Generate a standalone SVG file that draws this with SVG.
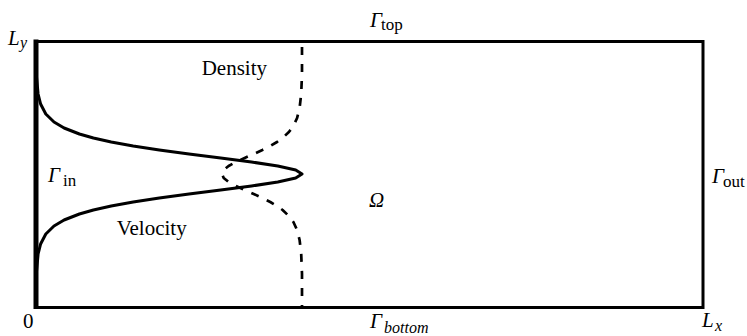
<svg xmlns="http://www.w3.org/2000/svg" width="747" height="336" viewBox="0 0 747 336">
<style>
text{font-family:'Liberation Serif','Times New Roman','DejaVu Serif',serif;fill:#000}
.lab{font-size:21px}
.it{font-style:italic}
.sub{font-size:17px}
.subi{font-size:16px;font-style:italic}
.border{fill:none;stroke:#000;stroke-width:3;stroke-linejoin:miter}
.curve{fill:none;stroke:#000;stroke-width:3;stroke-linejoin:round;stroke-linecap:round}
.dash{fill:none;stroke:#000;stroke-width:2.7;stroke-dasharray:8 9;stroke-linejoin:round}
</style>
<rect width="747" height="336" fill="#fff"/>
<g id="domain">
<path class="border" d="M36,41.5 H703 V307.5 H36"/>
<line x1="36" y1="39.5" x2="36" y2="309" stroke="#000" stroke-width="5"/>
</g>
<g id="connectors">
<path id="velocity-profile" class="curve" d="M36,70 L36.6,78 L38.1,94 L40.6,104 L45.8,114 L54,122 L64.1,128 L79.4,134 L93.4,138 L111.2,142 L133.2,146 L159.3,150 L189,154 L220.7,158 L251.5,162 L277.8,166 L295.7,170 L302,174 L295.7,178 L277.8,182 L251.5,186 L220.7,190 L189,194 L159.3,198 L133.2,202 L111.2,206 L93.4,210 L79.4,214 L64.1,220 L54,226 L45.8,234 L40.6,244 L38.1,254 L36.6,270 L36,278"/>
<path id="density-profile" class="dash" d="M302,47 L302,74 L301.2,94 L299.6,108 L297.1,118 L293.4,126 L288.9,132 L282.6,138 L277,142 L270.3,146 L262.4,150 L253.7,154 L244.6,158 L235.9,162 L228.6,166 L223.7,170 L222,174 L223.7,178 L228.6,182 L235.9,186 L244.6,190 L253.7,194 L262.4,198 L270.3,202 L277,206 L282.6,210 L288.9,216 L293.4,222 L297.1,230 L299.6,240 L301.2,254 L302,274 L302,306"/>
</g>
<g id="label-density"><text class="lab" font-family="Liberation Serif, serif" x="201.7" y="75">Density</text></g>
<g id="label-velocity"><text class="lab" font-family="Liberation Serif, serif" x="116.7" y="235">Velocity</text></g>
<g id="label-gamma-in"><text class="lab" font-family="Liberation Serif, serif"><tspan class="it" x="48" y="182">Γ</tspan><tspan class="sub" x="63" y="186">in</tspan></text></g>
<g id="label-gamma-top"><text class="lab" font-family="Liberation Serif, serif"><tspan class="it" x="370" y="27">Γ</tspan><tspan class="sub" x="381" y="30">top</tspan></text></g>
<g id="label-gamma-out"><text class="lab" font-family="Liberation Serif, serif"><tspan class="it" x="712" y="183">Γ</tspan><tspan class="sub" x="723" y="187">out</tspan></text></g>
<g id="label-gamma-bottom"><text class="lab" font-family="Liberation Serif, serif"><tspan class="it" x="370" y="328">Γ</tspan><tspan class="subi" x="384" y="333">bottom</tspan></text></g>
<g id="label-omega"><text class="lab it" font-family="Liberation Serif, serif" x="369" y="207">Ω</text></g>
<g id="label-lx"><text class="lab" font-family="Liberation Serif, serif"><tspan class="it" x="702" y="327">L</tspan><tspan class="subi" x="715" y="331">x</tspan></text></g>
<g id="label-ly"><text class="lab" font-family="Liberation Serif, serif"><tspan class="it" x="8" y="45">L</tspan><tspan class="subi" x="20" y="48">y</tspan></text></g>
<g id="label-zero"><text class="lab" font-family="Liberation Serif, serif" x="23" y="328">0</text></g>
</svg>
